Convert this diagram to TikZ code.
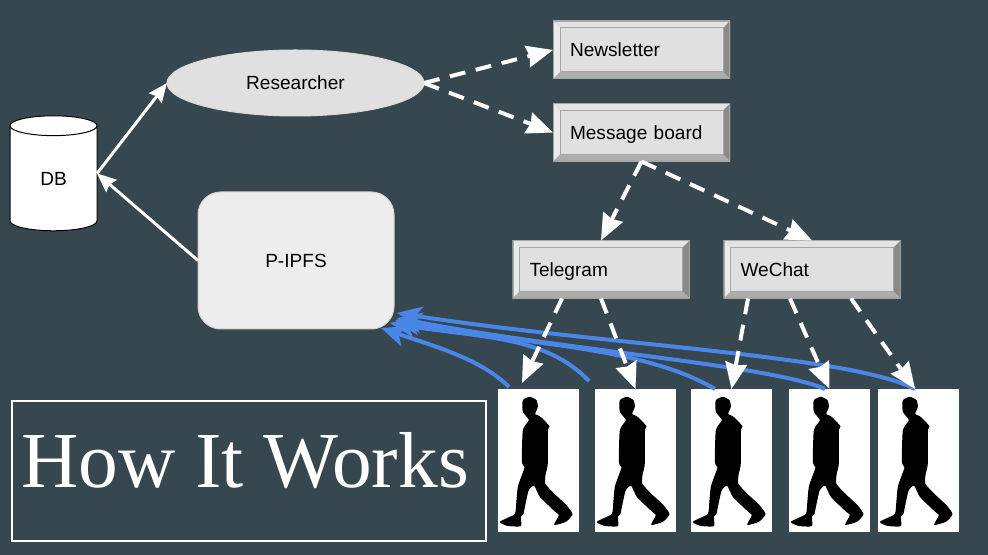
\documentclass[tikz,border=0pt]{standalone}
\usepackage{fontspec}
\setmainfont{Liberation Sans}
\newfontfamily\titlefont{Liberation Serif}
\usetikzlibrary{shapes.geometric,calc,decorations.markings}
\definecolor{slatebg}{HTML}{37474F}
\definecolor{arrowblue}{HTML}{4A86E8}
\definecolor{bevelfill}{HTML}{E0E0E0}
\tikzset{
  every node/.style={outer sep=0pt,font=\fontsize{14.3}{17}\selectfont,text=black},
  bevelbox/.style={rectangle,draw=none,minimum width=132.75pt,minimum height=43.5pt,
    text width=107.25pt,inner xsep=12.75pt,inner ysep=0pt,align=left,text height=13pt,text depth=2.5pt,
    path picture={
      \coordinate (NW) at (path picture bounding box.north west);
      \coordinate (NE) at (path picture bounding box.north east);
      \coordinate (SW) at (path picture bounding box.south west);
      \coordinate (SE) at (path picture bounding box.south east);
      \coordinate (nw) at ($(NW)+(5.25pt,-5.25pt)$);
      \coordinate (ne) at ($(NE)+(-5.25pt,-5.25pt)$);
      \coordinate (sw) at ($(SW)+(5.25pt,5.25pt)$);
      \coordinate (se) at ($(SE)+(-5.25pt,5.25pt)$);
      \fill[bevelfill] (NW) rectangle (SE);
      \fill[black!8] (NW)--(SW)--(sw)--(nw)--cycle;
      \fill[black!11] (NW)--(NE)--(ne)--(nw)--cycle;
      \fill[black!46] (NE)--(SE)--(se)--(ne)--cycle;
      \fill[black!32] (SW)--(SE)--(se)--(sw)--cycle;
      \draw[black!35,line width=.75pt] (nw) rectangle (se);
      \draw[black!35,line width=1.5pt] (NW) rectangle (SE);
    }},
  personbox/.style={rectangle,fill=white,minimum width=60.75pt,minimum height=107.25pt,inner sep=0pt},
  headtip/.style n args={4}{postaction={decorate,decoration={markings,
      mark=at position 1 with {\fill[#1,solid] (0pt,0pt) -- (-#2,#3) -- (-#2+#4,0pt) -- (-#2,-#3) -- cycle;}}}},
  solidarrow/.style={draw=white,line width=2.25pt,shorten >=8pt,headtip={white}{14.5pt}{6.25pt}{2pt}},
  dasharrow/.style={draw=white,line width=3pt,dash pattern=on 12pt off 8pt,shorten >=14pt,
    headtip={white}{20pt}{8.5pt}{2pt}},
  bluearrow/.style={draw=arrowblue,line width=3pt,shorten >=10pt,headtip={arrowblue}{19pt}{8pt}{5pt}},
  walker/.pic={
    \begin{scope}[x=.25pt,y=-.25pt,shift={(-146,-241)}]
      \fill[black] plot[smooth cycle,tension=.35] coordinates {
        (120,50) (140,60) (144,80) (136,102) (150,108) (179,138) (174,152) (174,250)
        (167,285) (167,312) (200,347) (230,375) (248,402) (228,425)
        (193,434) (207,405) (195,394) (150,350) (133,317) (116,332) (101,400) (93,410)
        (93,438) (52,437) (30,425) (70,405) (77,395) (84,320) (104,262) (96,248)
        (99,150) (117,120) (99,95) (99,60)};
    \end{scope}
  }
}
\begin{document}
\begin{tikzpicture}[x=.75pt,y=-.75pt]
\fill[slatebg] (0,0) rectangle (988,555);
\useasboundingbox (0,0) rectangle (988,555);

% title
\node[draw=white,line width=1.5pt,minimum width=355.5pt,minimum height=104.25pt,inner sep=0pt,
  text=white,font=\titlefont\fontsize{59.5}{62}\selectfont] (title) at (248.5,471)
  {\hspace*{-5pt}\raisebox{17pt}{How It Works}};

% main shapes
\node[cylinder,shape border rotate=90,aspect=.75,draw=black,line width=.75pt,fill=white,
  cylinder uses custom fill,cylinder body fill=white,cylinder end fill=white,
  minimum width=65.25pt,minimum height=86.25pt,inner sep=0pt] (db) at (53.5,178.5) {\raisebox{-1.5pt}{DB}};
\node[ellipse,draw=black!15,line width=.75pt,fill=bevelfill,minimum width=192.75pt,minimum height=49.5pt,inner sep=0pt]
  (researcher) at (295.5,83) {\raisebox{-.75pt}{Researcher}};
\node[rectangle,rounded corners=17pt,draw=black!18,line width=.75pt,fill=black!7,minimum width=147pt,minimum height=102.75pt,inner sep=0pt]
  (pipfs) at (296,260.5) {P-IPFS};

\node[bevelbox] (news) at (641.5,50) {Newsletter};
\node[bevelbox] (board) at (641.5,132.5) {Message board};
\node[bevelbox] (tele) at (601,269.5) {Telegram};
\node[bevelbox] (wechat) at (812,269.5) {WeChat};

% people
\foreach \nm/\cx in {p1/538.5,p2/635.5,p3/731.5,p4/829.5,p5/918.5}{
  \node[personbox] (\nm) at (\cx,460.5) {};
  \pic at (\nm.center) {walker};
}

% blue arrows
\draw[bluearrow] ([shift={(-22.1pt,1.5pt)}]p1.north) .. controls (480,358) and (430,345) .. ([shift={(-9.75pt,.75pt)}]pipfs.south east);
\draw[bluearrow] ([shift={(-34.9pt,6pt)}]p2.north) .. controls (545,335) and (480,338) .. ([shift={(-3pt,4.5pt)}]pipfs.south east);
\draw[bluearrow] ([shift={(-12.4pt,0pt)}]p3.north) .. controls (640,345) and (520,345) .. ([shift={(.75pt,6.75pt)}]pipfs.south east);
\draw[bluearrow] ([shift={(-3.4pt,0pt)}]p4.north) .. controls (770,365) and (560,350) .. ([shift={(2.25pt,8.25pt)}]pipfs.south east);
\draw[bluearrow] ([shift={(-2.6pt,0pt)}]p5.north) .. controls (850,355) and (600,345) .. ([shift={(2.25pt,12pt)}]pipfs.south east);

% solid arrows
\draw[solidarrow] ([yshift=3.75pt]db.east) -- (researcher.west);
\draw[solidarrow] (pipfs.west) -- ([yshift=3.75pt]db.east);

% dashed arrows
\draw[dasharrow] (researcher.east) -- (news.west);
\draw[dasharrow] (researcher.east) -- (board.west);
\draw[dasharrow] (board.south) -- (tele.north);
\draw[dasharrow] (board.south) -- (wechat.north);
\draw[dasharrow] ([xshift=-29.25pt]tele.south) -- ([shift={(-12.4pt,4.5pt)}]p1.north);
\draw[dasharrow] (tele.south) -- (p2.north);
\draw[dasharrow] ([xshift=-48pt]wechat.south) -- (p3.north);
\draw[dasharrow] ([xshift=-16.5pt]wechat.south) -- (p4.north);
\draw[dasharrow] ([xshift=29.25pt]wechat.south) -- ([xshift=-2.6pt]p5.north);
\end{tikzpicture}
\end{document}
